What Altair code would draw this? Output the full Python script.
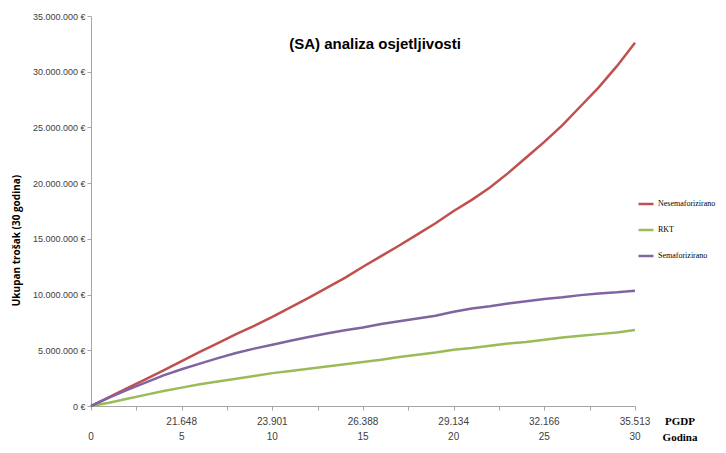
import altair as alt
import pandas as pd

years = list(range(0, 31))
nesemaforizirano = [0, 0.8, 1.6, 2.4, 3.2, 4.03, 4.85, 5.65, 6.45, 7.2, 8.0, 8.85, 9.7, 10.6, 11.5,
                    12.5, 13.45, 14.4, 15.4, 16.4, 17.5, 18.5, 19.6, 20.9, 22.3, 23.7, 25.2, 26.9,
                    28.6, 30.5, 32.6]
rkt = [0, 0.3, 0.65, 1.0, 1.35, 1.65, 1.95, 2.2, 2.45, 2.7, 2.95, 3.15, 3.35, 3.55, 3.75, 3.95,
       4.15, 4.4, 4.6, 4.8, 5.05, 5.2, 5.4, 5.6, 5.75, 5.95, 6.15, 6.3, 6.45, 6.6, 6.82]
semaforizirano = [0, 0.75, 1.45, 2.1, 2.75, 3.3, 3.8, 4.3, 4.75, 5.15, 5.5, 5.85, 6.2, 6.5, 6.8,
                  7.05, 7.35, 7.6, 7.85, 8.1, 8.45, 8.75, 8.95, 9.2, 9.4, 9.6, 9.75, 9.95, 10.1,
                  10.2, 10.35]

series_names = ["Nesemaforizirano", "RKT", "Semaforizirano"]
series_colors = ["#C0504D", "#9BBB59", "#8064A2"]

pgdp_years = [5, 10, 15, 20, 25, 30]
pgdp_labels = ["21.648", "23.901", "26.388", "29.134", "32.166", "35.513"]
godina_years = [0, 5, 10, 15, 20, 25, 30]
godina_labels = ["0", "5", "10", "15", "20", "25", "30"]

rows = []
for name, vals in zip(series_names, [nesemaforizirano, rkt, semaforizirano]):
    for y, v in zip(years, vals):
        rows.append({"Godina": y, "Trošak": v * 1e6, "Serija": name})
df = pd.DataFrame(rows)

x_scale = alt.Scale(domain=[0, 30], nice=False, zero=False)
y_scale = alt.Scale(domain=[0, 35e6], nice=False)

lines = alt.Chart(df).mark_line(strokeWidth=2.5).encode(
    x=alt.X("Godina:Q", scale=x_scale,
            axis=alt.Axis(values=[i * 2.5 for i in range(13)], labels=False, title=None,
                          grid=False, tickSize=4, domainColor="#a6a6a6", tickColor="#a6a6a6")),
    y=alt.Y("Trošak:Q", scale=y_scale,
            axis=alt.Axis(values=[i * 5e6 for i in range(8)], grid=False, tickSize=4,
                          domainColor="#a6a6a6", tickColor="#a6a6a6",
                          labelExpr="replace(format(datum.value, ',.0f'), regexp(',', 'g'), '.') + ' €'",
                          labelFont="Liberation Sans", labelFontSize=9, labelColor="#404040",
                          labelPadding=2,
                          title="Ukupan trošak (30 godina)", titleFont="Open Sans",
                          titleFontSize=10, titleFontWeight="bold", titleColor="#000000",
                          titleAngle=-90, titleX=-75, titleY=224, titleAlign="center",
                          titleBaseline="middle")),
    color=alt.Color("Serija:N", scale=alt.Scale(domain=series_names, range=series_colors),
                    legend=alt.Legend(title=None, orient="none", legendX=546, legendY=179,
                                      symbolType="stroke", symbolStrokeWidth=2.5, symbolSize=225,
                                      rowPadding=12, labelFont="Liberation Serif",
                                      labelFontSize=8, labelFontWeight="normal",
                                      labelColor="#000000", labelOffset=3)),
)

pgdp_df = pd.DataFrame({"Godina": pgdp_years, "label": pgdp_labels})
pgdp_text = alt.Chart(pgdp_df).mark_text(font="Liberation Sans", fontSize=10, color="#404040",
                                         baseline="middle").encode(
    x=alt.X("Godina:Q", scale=x_scale), y=alt.value(406), text="label:N")

god_df = pd.DataFrame({"Godina": godina_years, "label": godina_labels})
god_text = alt.Chart(god_df).mark_text(font="Liberation Sans", fontSize=10, color="#404040",
                                       baseline="middle").encode(
    x=alt.X("Godina:Q", scale=x_scale), y=alt.value(421), text="label:N")

pgdp_name = alt.Chart(pd.DataFrame({"label": ["PGDP"]})).mark_text(
    font="Liberation Serif", fontSize=11, fontWeight="bold", color="#000000",
    baseline="middle", align="center").encode(
    x=alt.value(589), y=alt.value(406), text="label:N")
god_name = alt.Chart(pd.DataFrame({"label": ["Godina"]})).mark_text(
    font="Liberation Serif", fontSize=11, fontWeight="bold", color="#000000",
    baseline="middle", align="center").encode(
    x=alt.value(589), y=alt.value(422), text="label:N")

title = alt.Chart(pd.DataFrame({"label": ["(SA) analiza osjetljivosti"]})).mark_text(
    font="Liberation Sans", fontSize=15, fontWeight="bold", color="#000000",
    baseline="middle", align="center").encode(
    x=alt.value(284), y=alt.value(28), text="label:N")

chart = alt.layer(lines, pgdp_text, god_text, pgdp_name, god_name, title).properties(
    width=544, height=390,
    autosize=alt.AutoSizeParams(type="none"),
    padding={"left": 83, "top": 8, "right": 83, "bottom": 39},
).configure_view(stroke=None)

chart.save("out.html", embed_options={"renderer": "svg", "actions": False})
